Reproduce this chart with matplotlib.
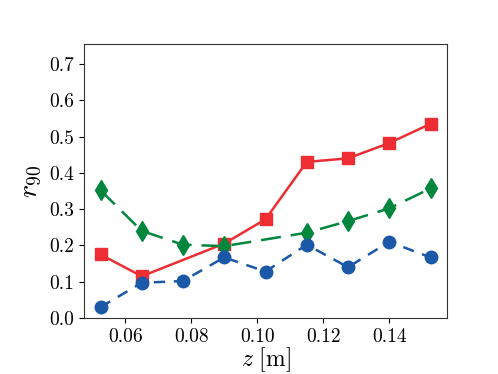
import matplotlib
matplotlib.use('Agg')
import matplotlib.pyplot as plt

# +
# data
# -
z_red = [0.0525, 0.065, 0.09, 0.1025, 0.115, 0.1275, 0.14, 0.1525]
r_red = [0.175, 0.115, 0.205, 0.272, 0.430, 0.440, 0.482, 0.535]

z_green = [0.0525, 0.065, 0.0775, 0.09, 0.115, 0.1275, 0.14, 0.1525]
r_green = [0.352, 0.240, 0.202, 0.198, 0.235, 0.267, 0.302, 0.357]

z_blue = [0.0525, 0.065, 0.0775, 0.09, 0.1025, 0.115, 0.1275, 0.14, 0.1525]
r_blue = [0.030, 0.097, 0.102, 0.167, 0.128, 0.202, 0.140, 0.210, 0.167]

xticks = [0.06, 0.08, 0.10, 0.12, 0.14]
yticks = [0.0, 0.1, 0.2, 0.3, 0.4, 0.5, 0.6, 0.7]

# +
# style
# -
plt.rcParams['font.family'] = 'cmr10'
plt.rcParams['mathtext.fontset'] = 'cm'
plt.rcParams['axes.formatter.use_mathtext'] = True
plt.rcParams['axes.unicode_minus'] = False

fig = plt.figure(figsize=(4.98, 3.74), dpi=100)
ax = fig.add_axes([84 / 498, 1 - 318 / 374, (447 - 84) / 498, (318 - 44) / 374])

ax.plot(z_red, r_red, color='#ee2e33', lw=1.8, marker='s', ms=9, ls='-')
ax.plot(z_green, r_green, color='#00873d', lw=1.8, marker='d', ms=10,
        dashes=(8, 4))
ax.plot(z_blue, r_blue, color='#1b58a7', lw=1.8, marker='o', ms=9,
        dashes=(4.5, 3.5))

ax.set_ylim(0, 0.755)
ax.set_xticks(xticks)
ax.set_xticklabels([f'{t:.2f}' for t in xticks])
ax.set_yticks(yticks)
ax.set_yticklabels([f'{t:.1f}' for t in yticks])
ax.tick_params(labelsize=14)
for s in ax.spines.values():
    s.set_color('#333333')

ax.set_xlabel(r'$z\ $[m]', fontsize=17, labelpad=0)
ax.set_ylabel(r'$r_{90}$', fontsize=20, labelpad=4)

plt.savefig('out.png', dpi=100)
